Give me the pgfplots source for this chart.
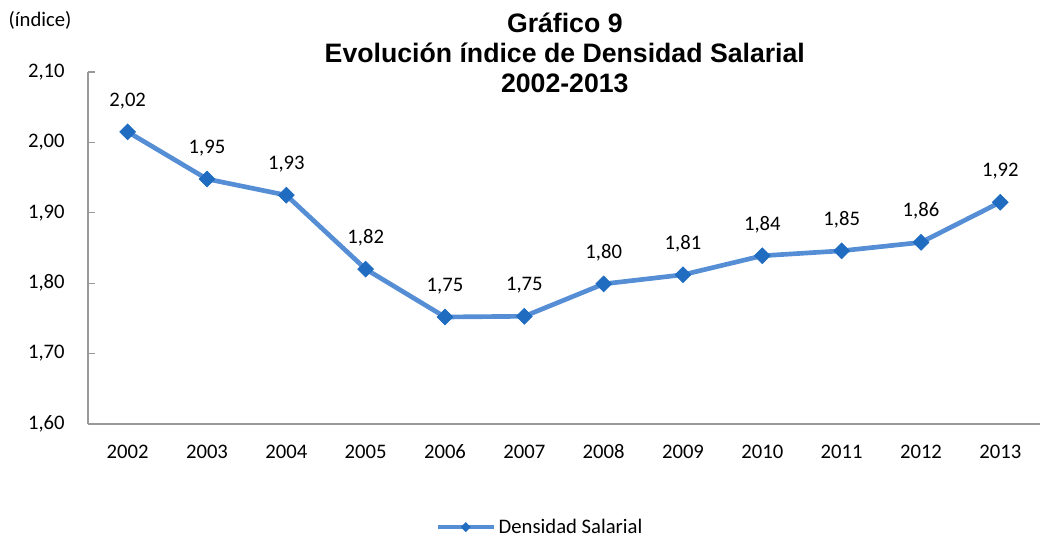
\documentclass[border=0pt]{standalone}
\usepackage{pgfplots}
\pgfplotsset{compat=1.18}
\usetikzlibrary{shapes.geometric}
\usepackage{fontspec}
\setmainfont{Carlito}
\newfontfamily\arialfont{Liberation Sans}
\definecolor{linec}{HTML}{558ED5}
\definecolor{markc}{HTML}{1F6CC0}
\begin{document}
\begin{tikzpicture}[x=1pt,y=1pt]
\useasboundingbox (-66pt,-87pt) rectangle (714.75pt,318pt);
\begin{axis}[
  at={(0,0)}, anchor=south west,
  scale only axis, width=714pt, height=264pt,
  xmin=-0.5, xmax=11.5, ymin=1.6, ymax=2.1,
  xtick={0,...,11},
  xticklabels={2002,2003,2004,2005,2006,2007,2008,2009,2010,2011,2012,2013},
  extra x ticks={-0.5,0.5,...,11.5}, extra x tick labels={},
  extra x tick style={major tick length=4pt, tick style={draw=gray!80, line width=0.9pt}, tick align=outside},
  x tick style={draw=none},
  ytick={1.6,1.7,...,2.1},
  y tick style={draw=gray!80, line width=0.9pt},
  major tick length=5pt,
  tick align=inside,
  axis x line*=bottom, axis y line*=left,
  axis line style={draw=gray!80, line width=1pt, -},
  yticklabel style={/pgf/number format/fixed, /pgf/number format/fixed zerofill, /pgf/number format/precision=2, /pgf/number format/use comma, /pgf/number format/assume math mode=true},
  yticklabel style={font=\fontsize{15.5}{18}\selectfont, xshift=-14pt},
  xticklabel style={font=\fontsize{15.5}{18}\selectfont, yshift=-11pt, text height=11pt, text depth=0pt},
  every tick label/.append style={text=black},
  clip=false,
  legend style={at={(0.475,-0.293)}, anchor=center, draw=none, font=\fontsize{15.5}{18}\selectfont, /tikz/every even column/.append style={column sep=2pt}},
  legend image code/.code={
    \draw[linec, line width=3.5pt] (0pt,0pt) -- (42pt,0pt);
    \node[diamond, fill=markc, inner sep=0pt, minimum size=9pt] at (21pt,0pt) {};
  },
  nodes near coords,
  point meta=explicit symbolic,
  every node near coord/.append style={font=\fontsize{15.5}{18}\selectfont, yshift=12.5pt, text=black, text height=11pt, text depth=3pt},
]
\addplot[linec, line width=3.5pt, mark=square*, mark size=4.2pt, mark options={rotate=45, fill=markc, draw=markc, line width=0.5pt}]
  table[meta=lab] {
x y lab
0 2.015 2,02
1 1.948 1,95
2 1.925 1,93
3 1.820 1,82
4 1.752 1,75
5 1.753 1,75
6 1.799 1,80
7 1.812 1,81
8 1.839 1,84
9 1.846 1,85
10 1.858 1,86
11 1.915 1,92
};
\addlegendentry{Densidad Salarial}
\end{axis}
\node[font=\fontsize{15.5}{18}\selectfont, anchor=west] at (-63pt,303pt) {(índice)};
\node[font=\arialfont\bfseries\fontsize{20}{22.5}\selectfont, align=center, anchor=north] at (357.6pt,312pt) {Gráfico 9\\Evolución índice de Densidad Salarial\\2002-2013};
\end{tikzpicture}
\end{document}
